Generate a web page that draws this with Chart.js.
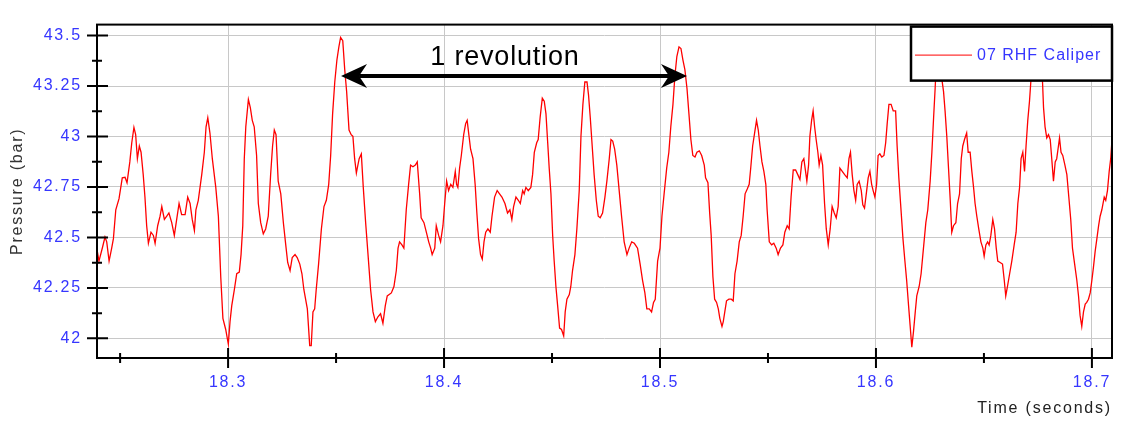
<!DOCTYPE html>
<html>
<head>
<meta charset="utf-8">
<title>07 RHF Caliper</title>
<script src="https://cdn.jsdelivr.net/npm/chart.js@4"></script>
<style>
    html, body { margin: 0; padding: 0; background: #fff; }
    #wrap { width: 1124px; height: 421px; }
</style>
</head>
<body>
<div id="wrap"><canvas id="pressureChart" width="1124" height="421"></canvas></div>
<script>
// 數據 (時間 s, 壓力 bar)
const timeSec = [
    18.2392, 18.2402, 18.2418, 18.2430, 18.2438, 18.2449, 18.2461, 18.2469, 18.2480, 18.2495,
    18.2510, 18.2523, 18.2532, 18.2545, 18.2554, 18.2564, 18.2572, 18.2580, 18.2589, 18.2597,
    18.2607, 18.2615, 18.2623, 18.2631, 18.2643, 18.2654, 18.2662, 18.2674, 18.2685, 18.2693,
    18.2705, 18.2716, 18.2726, 18.2739, 18.2751, 18.2762, 18.2773, 18.2785, 18.2801, 18.2813,
    18.2824, 18.2834, 18.2844, 18.2851, 18.2862, 18.2878, 18.2890, 18.2898, 18.2906, 18.2916,
    18.2927, 18.2943, 18.2955, 18.2966, 18.2976, 18.2989, 18.3001, 18.3009, 18.3017, 18.3029,
    18.3040, 18.3052, 18.3060, 18.3068, 18.3075, 18.3082, 18.3094, 18.3103, 18.3112, 18.3121,
    18.3132, 18.3140, 18.3151, 18.3163, 18.3174, 18.3186, 18.3197, 18.3206, 18.3214, 18.3222,
    18.3232, 18.3244, 18.3256, 18.3267, 18.3276, 18.3287, 18.3297, 18.3310, 18.3320,
    18.3332, 18.3342, 18.3351, 18.3367, 18.3378, 18.3385, 18.3393, 18.3401, 18.3408, 18.3419,
    18.3432, 18.3444, 18.3455, 18.3466, 18.3475, 18.3484, 18.3494, 18.3504, 18.3513, 18.3521,
    18.3531, 18.3540, 18.3549, 18.3560, 18.3570, 18.3578, 18.3586, 18.3594, 18.3601, 18.3607,
    18.3617, 18.3626, 18.3637, 18.3648, 18.3660, 18.3671, 18.3682, 18.3694, 18.3706, 18.3717,
    18.3728, 18.3737, 18.3756, 18.3768, 18.3779, 18.3787, 18.3794, 18.3805, 18.3814, 18.3825,
    18.3836, 18.3845, 18.3856, 18.3867, 18.3876, 18.3887, 18.3894, 18.3907, 18.3918, 18.3929,
    18.3938, 18.3945, 18.3957, 18.3964, 18.3975, 18.3984, 18.3995, 18.4003, 18.4012, 18.4021,
    18.4031, 18.4041, 18.4052, 18.4058, 18.4064, 18.4072, 18.4080, 18.4091, 18.4100, 18.4107,
    18.4114, 18.4123, 18.4134, 18.4144, 18.4152, 18.4160, 18.4169, 18.4177, 18.4185, 18.4193,
    18.4203, 18.4214, 18.4222, 18.4234, 18.4246, 18.4257, 18.4268,
    18.4282, 18.4294, 18.4305, 18.4314, 18.4322, 18.4333, 18.4344, 18.4353, 18.4364, 18.4371,
    18.4379, 18.4390, 18.4402, 18.4410, 18.4418, 18.4429, 18.4436, 18.4445, 18.4455, 18.4464,
    18.4472, 18.4480, 18.4487, 18.4495, 18.4503, 18.4510, 18.4518, 18.4526, 18.4535, 18.4544,
    18.4554, 18.4561, 18.4569, 18.4580, 18.4587, 18.4595, 18.4606, 18.4615, 18.4626, 18.4634,
    18.4643, 18.4652, 18.4662, 18.4669, 18.4677, 18.4686, 18.4695, 18.4705, 18.4714, 18.4723,
    18.4734, 18.4745, 18.4754, 18.4765, 18.4773, 18.4781, 18.4790, 18.4800, 18.4811, 18.4822,
    18.4834, 18.4847, 18.4857, 18.4869, 18.4881, 18.4896, 18.4908, 18.4919, 18.4930, 18.4939,
    18.4950, 18.4961, 18.4970, 18.4978, 18.4989, 18.5000, 18.5009, 18.5019, 18.5031, 18.5041,
    18.5050, 18.5060, 18.5069, 18.5078, 18.5088, 18.5097, 18.5106, 18.5115, 18.5125, 18.5134,
    18.5143, 18.5152, 18.5162, 18.5171, 18.5182, 18.5193, 18.5205,
    18.5211, 18.5222, 18.5230, 18.5237, 18.5245, 18.5253, 18.5262, 18.5270, 18.5277, 18.5287,
    18.5293, 18.5300, 18.5308, 18.5319, 18.5330, 18.5339, 18.5347, 18.5357, 18.5367, 18.5376,
    18.5385, 18.5394, 18.5404, 18.5413, 18.5420, 18.5429, 18.5438, 18.5447, 18.5455, 18.5463,
    18.5472, 18.5481, 18.5490, 18.5496, 18.5506, 18.5517, 18.5527, 18.5538, 18.5547, 18.5558,
    18.5569, 18.5578, 18.5589, 18.5598, 18.5607, 18.5617, 18.5628, 18.5638, 18.5648, 18.5657,
    18.5666, 18.5674, 18.5680, 18.5688, 18.5694, 18.5702, 18.5709, 18.5716, 18.5723, 18.5731,
    18.5737, 18.5745, 18.5753, 18.5762, 18.5770, 18.5779, 18.5788, 18.5797, 18.5807, 18.5816,
    18.5825, 18.5833, 18.5844, 18.5855, 18.5867, 18.5875, 18.5882, 18.5890, 18.5898, 18.5906,
    18.5913, 18.5922, 18.5932, 18.5939, 18.5947, 18.5957, 18.5964, 18.5972, 18.5980, 18.5987,
    18.5995, 18.6003, 18.6010, 18.6018, 18.6027, 18.6037, 18.6045, 18.6052, 18.6060, 18.6070,
    18.6080, 18.6091, 18.6098, 18.6106, 18.6114, 18.6125, 18.6134, 18.6142,
    18.6151, 18.6158, 18.6166, 18.6174, 18.6182, 18.6189, 18.6200, 18.6209, 18.6220, 18.6231,
    18.6240, 18.6251, 18.6259, 18.6267, 18.6274, 18.6282, 18.6297, 18.6305, 18.6313, 18.6320,
    18.6328, 18.6336, 18.6344, 18.6351, 18.6359, 18.6370, 18.6378, 18.6387, 18.6395, 18.6402,
    18.6410, 18.6420, 18.6427, 18.6436, 18.6444, 18.6452, 18.6459, 18.6467, 18.6476, 18.6486,
    18.6495, 18.6501, 18.6509, 18.6517, 18.6524, 18.6532, 18.6541, 18.6549, 18.6557, 18.6564,
    18.6575, 18.6586, 18.6594, 18.6601, 18.6609, 18.6619, 18.6629, 18.6640, 18.6649, 18.6657,
    18.6665, 18.6672, 18.6680, 18.6688, 18.6695, 18.6703, 18.6711, 18.6719, 18.6730, 18.6753,
    18.6768, 18.6776, 18.6783, 18.6791, 18.6799, 18.6807, 18.6814, 18.6822, 18.6830, 18.6837,
    18.6845, 18.6850, 18.6857, 18.6865, 18.6875, 18.6884, 18.6893, 18.6902, 18.6910, 18.6920,
    18.6930, 18.6938, 18.6945, 18.6953, 18.6961, 18.6969, 18.6976, 18.6984, 18.6992, 18.7000,
    18.7007, 18.7015, 18.7023, 18.7031, 18.7038, 18.7046, 18.7057, 18.7064, 18.7072, 18.7080,
    18.7087, 18.7095
];

const pressureBar = [
    42.447, 42.383, 42.449, 42.502, 42.478, 42.383, 42.447, 42.494, 42.637, 42.692,
    42.795, 42.798, 42.771, 42.874, 42.969, 43.045, 43.009, 42.890, 42.953, 42.922,
    42.811, 42.700, 42.558, 42.471, 42.526, 42.510, 42.471, 42.558, 42.605, 42.653,
    42.589, 42.605, 42.621, 42.573, 42.510, 42.589, 42.668, 42.613, 42.613, 42.700,
    42.668, 42.589, 42.534, 42.637, 42.684, 42.811, 42.922, 43.048, 43.093, 43.017,
    42.890, 42.748, 42.605, 42.305, 42.099, 42.044, 41.972, 42.083, 42.162, 42.241,
    42.320, 42.328, 42.415, 42.558, 42.890, 43.048, 43.183, 43.143, 43.080, 43.048,
    42.906, 42.668, 42.573, 42.518, 42.542, 42.605, 42.811, 42.953, 43.032, 43.009,
    42.779, 42.716, 42.573, 42.463, 42.376, 42.336, 42.400, 42.415, 42.400,
    42.368, 42.320, 42.241, 42.146, 41.964, 41.964, 42.131, 42.146, 42.241, 42.368,
    42.542, 42.653, 42.684, 42.763, 42.906, 43.112, 43.270, 43.380, 43.444, 43.491,
    43.475, 43.333, 43.222, 43.032, 43.009, 43.001, 42.890, 42.819, 42.858, 42.890,
    42.914, 42.748, 42.573, 42.415, 42.241, 42.131, 42.083, 42.107, 42.122, 42.075,
    42.162, 42.210, 42.225, 42.257, 42.336, 42.447, 42.478, 42.463, 42.447, 42.637,
    42.763, 42.858, 42.850, 42.858, 42.874, 42.716, 42.597, 42.573, 42.526, 42.478,
    42.447, 42.415, 42.447, 42.558, 42.510, 42.478, 42.558, 42.668, 42.779, 42.732,
    42.763, 42.748, 42.827, 42.763, 42.748, 42.843, 42.906, 43.009, 43.064, 43.080,
    43.017, 42.937, 42.890, 42.763, 42.621, 42.494, 42.415, 42.392, 42.478, 42.526,
    42.542, 42.526, 42.605, 42.700, 42.732, 42.716, 42.700,
    42.668, 42.621, 42.637, 42.589, 42.653, 42.700, 42.684, 42.668, 42.732, 42.716,
    42.748, 42.732, 42.748, 42.811, 42.922, 42.969, 42.985, 43.095, 43.190, 43.175,
    43.112, 42.969, 42.843, 42.716, 42.510, 42.383, 42.257, 42.162, 42.051, 42.044,
    42.012, 42.131, 42.194, 42.217, 42.257, 42.336, 42.415, 42.542, 42.732, 43.001,
    43.159, 43.270, 43.270, 43.206, 43.095, 42.953, 42.811, 42.684, 42.605, 42.597,
    42.621, 42.700, 42.779, 42.890, 42.985, 42.977, 42.937, 42.858, 42.732, 42.605,
    42.478, 42.415, 42.447, 42.478, 42.471, 42.447, 42.368, 42.289, 42.225, 42.146,
    42.146, 42.131, 42.178, 42.194, 42.383, 42.447, 42.605, 42.716, 42.843, 42.922,
    43.048, 43.159, 43.301, 43.396, 43.444, 43.436, 43.380, 43.333, 43.238, 43.112,
    42.985, 42.906, 42.898, 42.922, 42.929, 42.906, 42.858,
    42.795, 42.771, 42.621, 42.510, 42.305, 42.194, 42.178, 42.146, 42.099, 42.059,
    42.083, 42.131, 42.186, 42.194, 42.194, 42.186, 42.320, 42.383, 42.478, 42.510,
    42.605, 42.716, 42.740, 42.763, 42.843, 42.953, 43.017, 43.080, 43.032, 42.953,
    42.874, 42.827, 42.763, 42.637, 42.478, 42.463, 42.471, 42.447, 42.415, 42.447,
    42.463, 42.526, 42.558, 42.542, 42.700, 42.834, 42.834, 42.811, 42.787, 42.874,
    42.890, 42.827, 42.779, 42.858, 43.001, 43.080, 43.127, 43.048, 42.985, 42.922,
    42.858, 42.906, 42.858, 42.668, 42.542, 42.463, 42.542, 42.653, 42.621, 42.597,
    42.653, 42.843, 42.827, 42.811, 42.795, 42.890, 42.922, 42.811, 42.732, 42.684,
    42.763, 42.779, 42.732, 42.661, 42.645, 42.732, 42.795, 42.827, 42.763, 42.732,
    42.700, 42.763, 42.906, 42.914, 42.898, 42.906, 42.969, 43.064, 43.159, 43.159,
    43.127, 43.127, 42.953, 42.795, 42.668, 42.494, 42.383, 42.289,
    42.162, 42.067, 41.956, 42.036, 42.131, 42.210, 42.257, 42.320, 42.447, 42.573,
    42.637, 42.779, 42.922, 43.095, 43.238, 43.420, 43.400, 43.285, 43.222, 43.127,
    43.001, 42.843, 42.684, 42.526, 42.558, 42.573, 42.668, 42.716, 42.890, 42.953,
    42.985, 43.017, 42.922, 42.922, 42.827, 42.748, 42.668, 42.605, 42.542, 42.478,
    42.447, 42.407, 42.463, 42.478, 42.463, 42.510, 42.589, 42.542, 42.447, 42.383,
    42.376, 42.368, 42.289, 42.210, 42.257, 42.320, 42.383, 42.463, 42.526, 42.668,
    42.748, 42.890, 42.922, 42.827, 42.953, 43.080, 43.175, 43.301, 43.400, 43.420,
    43.360, 43.143, 43.048, 42.993, 43.009, 42.985, 42.890, 42.779, 42.874, 42.890,
    42.953, 42.993, 42.922, 42.906, 42.858, 42.811, 42.700, 42.589, 42.447, 42.368,
    42.289, 42.210, 42.115, 42.059, 42.131, 42.170, 42.178, 42.194, 42.225, 42.289,
    42.352, 42.431, 42.494, 42.558, 42.605, 42.637, 42.700, 42.684, 42.732, 42.827,
    42.890, 43.017
];

// 刻度
const xTicks = [18.3, 18.4, 18.5, 18.6, 18.7];
const xMinorTicks = [18.25, 18.35, 18.45, 18.55, 18.65];
const yTicks = [42, 42.25, 42.5, 42.75, 43, 43.25, 43.5];
const yMinorTicks = [42.125, 42.375, 42.625, 42.875, 43.125, 43.375];

const seriesName = '07 RHF Caliper';

// "1 revolution" 標註 (兩個峰值之間)
const revStart = 18.3523;
const revEnd = 18.5125;
const revLevel = 43.30;
const revLabel = '1 revolution';
const revLabelTime = 18.4282;
const revLabelLevel = 43.352;

const FONT = 'Arial, "Liberation Sans", sans-serif';
const BLUE = '#3636ff';

// 外框、刻度線、箭頭與圖例
const overlayPlugin = {
    id: 'overlay',
    beforeDraw(chart) {
        chart.ctx.letterSpacing = '1.8px';
    },
    afterDatasetsDraw(chart) {
        const { ctx, chartArea: a, scales: { x, y } } = chart;
        ctx.save();
        ctx.letterSpacing = '0px';

        ctx.strokeStyle = '#000';
        ctx.lineWidth = 2;
        ctx.strokeRect(a.left, a.top, a.right - a.left, a.bottom - a.top);

        ctx.beginPath();
        yTicks.forEach(v => {
            const py = y.getPixelForValue(v);
            ctx.moveTo(a.left - 10, py); ctx.lineTo(a.left + 11, py);
        });
        yMinorTicks.forEach(v => {
            const py = y.getPixelForValue(v);
            ctx.moveTo(a.left - 5, py); ctx.lineTo(a.left + 5, py);
        });
        xTicks.forEach(v => {
            const px = x.getPixelForValue(v);
            ctx.moveTo(px, a.bottom - 10); ctx.lineTo(px, a.bottom + 10);
        });
        xMinorTicks.forEach(v => {
            const px = x.getPixelForValue(v);
            ctx.moveTo(px, a.bottom - 5); ctx.lineTo(px, a.bottom + 5);
        });
        ctx.stroke();

        // 雙向箭頭
        const x1 = x.getPixelForValue(revStart);
        const x2 = x.getPixelForValue(revEnd);
        const ya = y.getPixelForValue(revLevel);
        ctx.lineWidth = 4;
        ctx.beginPath();
        ctx.moveTo(x1 + 18, ya); ctx.lineTo(x2 - 18, ya);
        ctx.stroke();
        ctx.fillStyle = '#000';
        [[x1, 1], [x2, -1]].forEach(([tip, dir]) => {
            ctx.beginPath();
            ctx.moveTo(tip, ya);
            ctx.lineTo(tip + dir * 26, ya - 12);
            ctx.lineTo(tip + dir * 18, ya);
            ctx.lineTo(tip + dir * 26, ya + 12);
            ctx.closePath();
            ctx.fill();
        });

        ctx.font = '27px ' + FONT;
        ctx.letterSpacing = '0.8px';
        ctx.textAlign = 'center';
        ctx.textBaseline = 'alphabetic';
        ctx.fillText(revLabel, x.getPixelForValue(revLabelTime), y.getPixelForValue(revLabelLevel));

        // 圖例
        const lx = a.right - 201, ly = a.top + 2, lw = 201, lh = 54;
        ctx.fillStyle = '#fff';
        ctx.fillRect(lx, ly, lw, lh);
        ctx.lineWidth = 2.5;
        ctx.strokeStyle = '#000';
        ctx.strokeRect(lx, ly, lw, lh);
        ctx.strokeStyle = '#ff0000';
        ctx.lineWidth = 1;
        ctx.beginPath();
        ctx.moveTo(lx + 4, ly + 28.5); ctx.lineTo(lx + 61, ly + 28.5);
        ctx.stroke();
        ctx.font = '16px ' + FONT;
        ctx.letterSpacing = '1px';
        ctx.fillStyle = BLUE;
        ctx.textAlign = 'left';
        ctx.textBaseline = 'middle';
        ctx.fillText(seriesName, lx + 66, ly + 29);

        ctx.restore();
    }
};

const ctx = document.getElementById('pressureChart').getContext('2d');
new Chart(ctx, {
    type: 'line',
    data: {
        datasets: [{
            label: seriesName,
            data: timeSec.map((t, i) => ({ x: t, y: pressureBar[i] })),
            borderColor: '#ff0000',
            borderWidth: 1.3,
            pointRadius: 0,
            tension: 0,
            fill: false
        }]
    },
    options: {
        responsive: false,
        animation: false,
        devicePixelRatio: 1,
        layout: { padding: { top: 10, right: 12, left: 0, bottom: 0 } },
        plugins: {
            legend: { display: false },
            tooltip: { enabled: false }
        },
        scales: {
            x: {
                type: 'linear',
                min: 18.2393,
                max: 18.7093,
                afterFit: s => { s.height = 63; },
                afterBuildTicks: s => { s.ticks = xTicks.map(v => ({ value: v })); },
                grid: { color: '#c8c8c8', lineWidth: 1, drawTicks: false },
                border: { display: false },
                ticks: {
                    color: BLUE,
                    font: { family: FONT, size: 16 },
                    padding: 15,
                    maxRotation: 0,
                    autoSkip: false,
                    callback: v => String(v)
                },
                title: {
                    display: true,
                    text: 'Time (seconds)',
                    align: 'end',
                    color: '#222',
                    font: { family: FONT, size: 16 },
                    padding: { top: 0, bottom: 3 }
                }
            },
            y: {
                type: 'linear',
                min: 41.9027,
                max: 43.5543,
                afterFit: s => { s.width = 97; },
                afterBuildTicks: s => { s.ticks = yTicks.map(v => ({ value: v })); },
                grid: { color: '#c8c8c8', lineWidth: 1, drawTicks: false },
                border: { display: false },
                ticks: {
                    color: BLUE,
                    font: { family: FONT, size: 16 },
                    padding: 15,
                    autoSkip: false,
                    callback: v => String(v)
                },
                title: {
                    display: true,
                    text: 'Pressure (bar)',
                    color: '#333',
                    font: { family: FONT, size: 16 },
                    padding: { top: 8, bottom: 0 }
                }
            }
        }
    },
    plugins: [overlayPlugin]
});
</script>
</body>
</html>
